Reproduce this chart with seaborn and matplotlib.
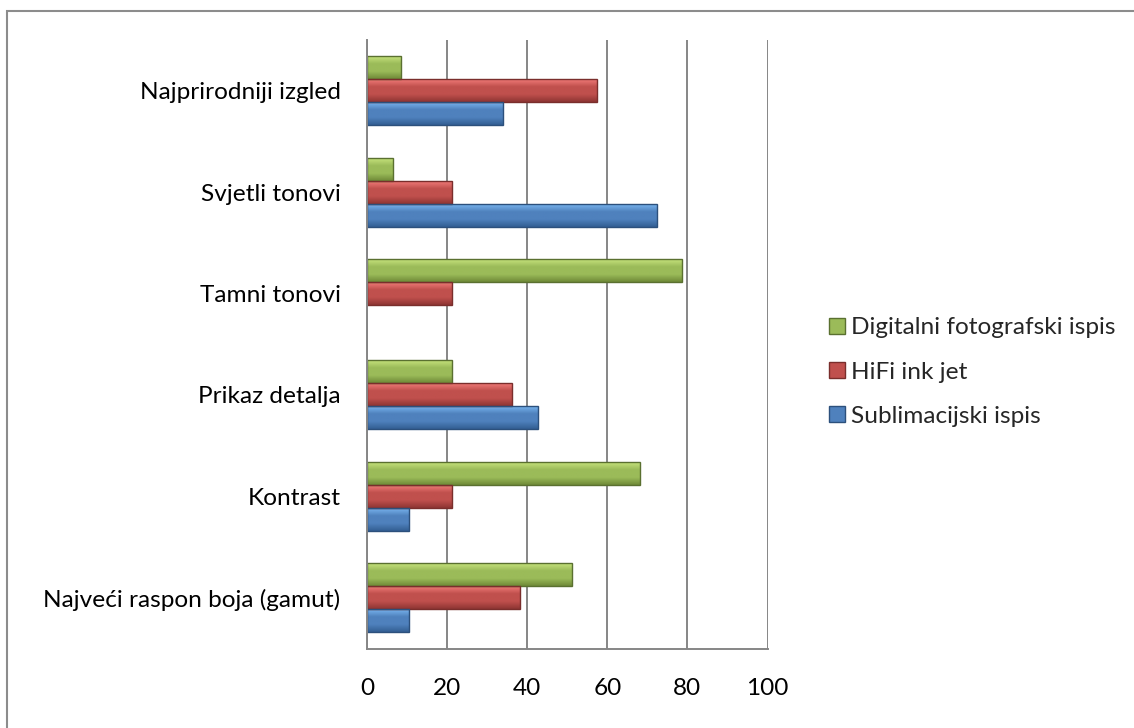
import matplotlib
matplotlib.use("Agg")
import matplotlib.pyplot as plt
import seaborn as sns
import pandas as pd
import numpy as np
from matplotlib.patches import Rectangle, Patch
from matplotlib.colors import LinearSegmentedColormap

categories = ["Najprirodniji izgled", "Svjetli tonovi", "Tamni tonovi",
              "Prikaz detalja", "Kontrast", "Najveći raspon boja (gamut)"]
series_names = ["Digitalni fotografski ispis", "HiFi ink jet", "Sublimacijski ispis"]
digitalni = [8.5, 6.4, 78.7, 21.3, 68.1, 51.1]
hifi = [57.4, 21.3, 21.3, 36.2, 21.3, 38.3]
sublimacijski = [34.0, 72.3, 0.0, 42.6, 10.6, 10.6]
x_ticks = [0, 20, 40, 60, 80, 100]

colors = ["#9bbb59", "#c0504d", "#4f81bd"]
lights = ["#c6e27c", "#f07a78", "#78b4ee"]
darks = ["#6f8a38", "#8e3533", "#335f93"]
edges = ["#5a7030", "#7a2e2c", "#2c507c"]

rows = []
for name, vals in zip(series_names, [digitalni, hifi, sublimacijski]):
    for c, v in zip(categories, vals):
        rows.append({"category": c, "series": name, "value": v})
df = pd.DataFrame(rows)

sns.set_theme(style="white")
plt.rcParams['font.family'] = ['Lato', 'DejaVu Sans']

W, H = 1134, 728
fig = plt.figure(figsize=(W / 100, H / 100), dpi=100)
ax = fig.add_axes([367 / W, 1 - 648.5 / H, 400.5 / W, 608.5 / H])

sns.barplot(data=df, x="value", y="category", hue="series", order=categories,
            hue_order=series_names, palette=colors, width=0.68, orient="h",
            saturation=1, ax=ax, legend=False, errorbar=None)

ax.set_xlim(0, 100)
ax.set_ylim(5.5, -0.5)

# bevel-like gradient fill on each bar
for i, cont in enumerate(ax.containers):
    cmap = LinearSegmentedColormap.from_list(
        "g%d" % i, [lights[i], colors[i], colors[i], darks[i]])
    grad = np.linspace(0, 1, 64).reshape(-1, 1)
    for p in cont.patches:
        x0, y0 = p.get_x(), p.get_y()
        w, h = p.get_width(), p.get_height()
        p.set_edgecolor(edges[i])
        p.set_linewidth(1.0)
        if w <= 0:
            p.set_visible(False)
            continue
        im = ax.imshow(grad, cmap=cmap, aspect="auto",
                       extent=(x0, x0 + w, y0 + h, y0), zorder=p.get_zorder(),
                       interpolation="bilinear")
        im.set_clip_path(p)
        p.set_facecolor("none")
        p.set_zorder(p.get_zorder() + 0.1)

ax.set_xlim(0, 100)
ax.set_ylim(5.5, -0.5)

gray = "#868686"
ax.set_xticks(x_ticks)
ax.set_xticklabels([str(t) for t in x_ticks])
ax.xaxis.grid(True, color=gray, linewidth=1.4)
ax.yaxis.grid(False)
ax.set_axisbelow(True)
ax.set_xlabel("")
ax.set_ylabel("")

for s in ["top", "right"]:
    ax.spines[s].set_visible(False)
for s in ["left", "bottom"]:
    ax.spines[s].set_color(gray)
    ax.spines[s].set_linewidth(1.4)

FS = 17.6
ax.tick_params(axis="x", which="major", length=6, width=1.4, color=gray,
               pad=15, labelsize=FS, labelcolor="black", direction="out")
ax.tick_params(axis="y", which="major", length=0, pad=19, labelsize=FS,
               labelcolor="black")
ax.set_yticks(np.arange(-0.5, 6.0, 1.0), minor=True)
ax.tick_params(axis="y", which="minor", length=7, width=1.4, color=gray,
               direction="out")

handles = []
for i, n in enumerate(series_names):
    handles.append(Patch(facecolor=colors[i], edgecolor=edges[i], label=n))
ax.legend(handles=handles, loc="center left",
          bbox_to_anchor=(829 / W, 1 - 372 / H), bbox_transform=fig.transFigure,
          frameon=False, fontsize=FS, handlelength=0.65, handleheight=0.65,
          handletextpad=0.25, labelspacing=0.95, borderpad=0, borderaxespad=0)

fig.add_artist(Rectangle((7 / W, -0.1), 1.2, 1.1 - 11 / H, transform=fig.transFigure,
                         fill=False, edgecolor="#8c8c8c", linewidth=1.5))

fig.savefig("out.png", dpi=100)
